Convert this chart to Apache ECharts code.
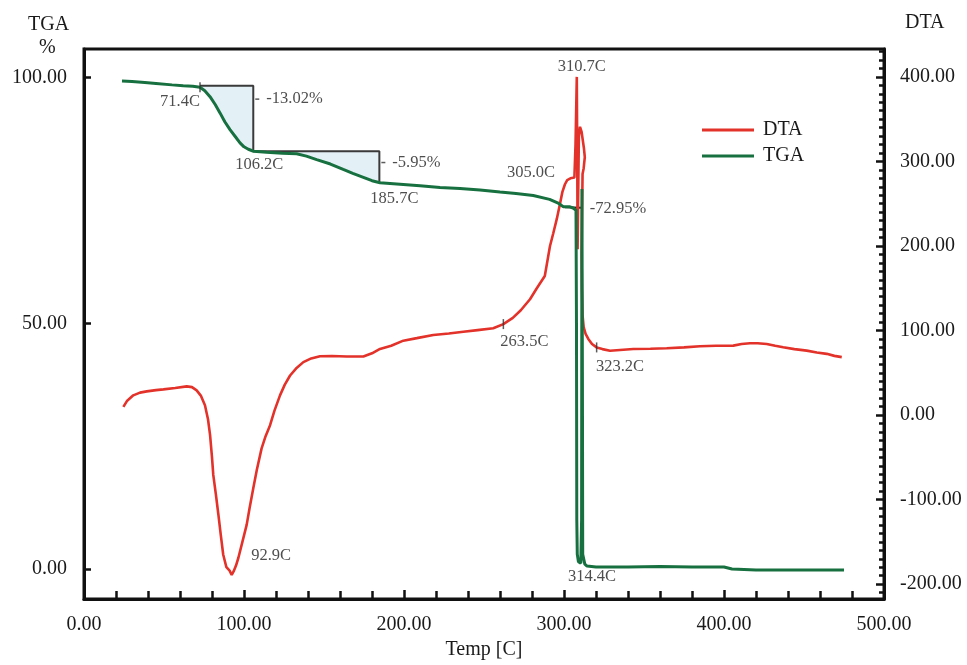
<!DOCTYPE html>
<html>
<head>
<meta charset="utf-8">
<script src="https://cdn.jsdelivr.net/npm/echarts@6/dist/echarts.min.js"></script>
<style>
html,body{margin:0;padding:0;background:#fff;}
#chart{width:967px;height:665px;}
</style>
</head>
<body>
<div id="chart"></div>
<script>
// ---------------- data ----------------
const xTicks = [0, 100, 200, 300, 400, 500];
const tgaTicks = [0, 50, 100];
const dtaTicks = [-200, -100, 0, 100, 200, 300, 400];

const tgaTemp = [23.75, 30, 38, 45, 55, 62, 68, 72.5, 75.5, 78.75, 82, 85, 88, 91.25, 94.5, 97.5, 100, 102.7, 106,
  114, 124, 132.9, 139, 145.4, 154, 162, 168, 174.6, 180, 185, 197.5, 210, 222.5, 235, 247.5, 260, 270, 280.8,
  291, 296, 299.6, 303.75, 306, 307.5, 307.8, 308, 308.3, 309, 310.5, 311, 311.2, 311.5, 311.7, 313, 314.4,
  320, 340, 360, 380, 400, 405, 420, 440, 460, 475];
const tgaValue = [99.3, 99.2, 99.0, 98.8, 98.5, 98.3, 98.2, 98.0, 97.3, 96.1, 94.5, 92.8, 91.0, 89.4, 88.0, 86.7, 85.9, 85.4, 85.0,
  84.8, 84.6, 84.5, 84.0, 83.3, 82.4, 81.3, 80.5, 79.7, 79.0, 78.6, 78.3, 78.0, 77.6, 77.4, 77.1, 76.7, 76.4, 76.0,
  75.2, 74.5, 73.7, 73.7, 73.4, 73.0, 50, 10, 3, 1.5, 1.2, 10, 77.3, 40, 3, 1.0, 0.6,
  0.4, 0.4, 0.5, 0.4, 0.4, 0.0, -0.2, -0.2, -0.2, -0.2];

const dtaTemp = [24.6, 27, 30.8, 35, 39.2, 45, 49.6, 57, 64.2, 67.5, 70.4, 73, 75.6, 77.5, 78.8, 80, 80.8, 82.5, 84,
  85.5, 87, 89, 91, 92.3, 93.5, 95, 96.5, 99, 101.7, 103.5, 105.8, 108, 111, 113.5, 116.3, 119, 122.5, 125.5,
  128.8, 132.5, 137.1, 142, 147.5, 155, 164.2, 174.6, 180, 185, 192, 199.6, 208, 218.3, 228, 237.1, 246, 255.8,
  262.1, 268, 273, 278.75, 283, 288, 291.25, 293.3, 295.5, 297.5, 299, 300.6, 302, 304, 306.5, 307.2, 307.6,
  308.0, 308.3, 308.5, 308.8, 309.3, 310, 311, 312.5, 313, 312.3, 311.6, 311.3, 311.0, 311.2, 311.6, 312.3,
  313.5, 315.2, 317.5, 320.4, 324, 328.75, 335, 343.3, 354, 364.2, 375, 385, 395, 405.8, 411, 416.25, 421,
  426.7, 432, 437, 444, 451.7, 458, 464.2, 469, 473.6];
const dtaValue = [9.6, 17, 23.3, 26.5, 28, 29.5, 30.4, 32, 33.9, 33, 29.2, 23, 11.5, -5, -23.8, -50, -70.8, -95, -117.9,
  -142, -165, -180, -184, -189, -185, -178, -168.8, -150, -129.6, -110, -86.5, -65, -39.4, -25, -12, 5, 23.3, 36,
  46.8, 55, 62.6, 67, 69.6, 69.8, 69.2, 69.2, 73, 78.2, 82, 88, 91, 94.7, 96.5, 98.6, 100.5, 102.6,
  107.6, 115, 124, 137, 150, 164.5, 200, 215, 232, 250, 264, 273, 278, 280, 281, 320, 360,
  400, 300, 196, 250, 330, 341, 335, 315, 305, 292, 285, 240, 190, 150, 118, 104,
  96, 90, 84, 80, 78, 76, 77, 78.2, 78.5, 79, 80, 81.4, 82, 82.1, 84, 84.9, 85,
  84.1, 82, 80.2, 78, 76.2, 74, 72.4, 70, 68.5];

// step-analysis boxes drawn on the TGA curve
const stepTemp = [72.5, 105.8, 105.8, 184.6, 184.6];
const stepValue = [98.3, 98.3, 85.0, 85.0, 78.7];
const lastStepTemp = [300.6, 311.1];
const lastStepValue = [73.6, 73.5];

// shaded areas between curve and box
const fillStart = [72.5, 105.8];
const fillEnd = [105.8, 184.6];
const fillTop = [98.3, 85.0];
const fillBottom = [85.0, 78.7];

// annotations
const tgaNoteText = ['71.4C', '106.2C', '185.7C', '-13.02%', '-5.95%', '-72.95%', '314.4C'];
const tgaNoteTemp = [72.5, 105.8, 184.6, 105.8, 184.6, 311.1, 314.4];
const tgaNoteValue = [98.0, 84.9, 78.7, 95.6, 82.7, 73.1, 0.6];
const dtaNoteText = ['92.9C', '263.5C', '305.0C', '310.7C', '323.2C'];
const dtaNoteTemp = [92.3, 262.1, 301.6, 308.0, 320.4];
const dtaNoteValue = [-189, 107.6, 276, 400, 80];

// ---------------- styles ----------------
const FONT = 'Liberation Serif';
const TXT = '#1a1a1a';
const RED = '#e2322a';
const GREEN = '#17703f';
const noteStyle = {
  '71.4C':   {offset: [-20, 14.5], align: 'center', mark: 'v'},
  '106.2C':  {offset: [6, 13], align: 'center'},
  '185.7C':  {offset: [15, 16], align: 'center'},
  '-13.02%': {offset: [9, 0], align: 'left', mark: 'h'},
  '-5.95%':  {offset: [9, 0], align: 'left', mark: 'h'},
  '-72.95%': {offset: [8, -1], align: 'left'},
  '314.4C':  {offset: [5, 11], align: 'center'},
  '92.9C':   {offset: [39.5, -19.5], align: 'center'},
  '263.5C':  {offset: [21, 17.5], align: 'center', mark: 'v'},
  '305.0C':  {offset: [-35.5, -9.5], align: 'center'},
  '310.7C':  {offset: [5, -10.5], align: 'center'},
  '323.2C':  {offset: [23.4, 19], align: 'center', mark: 'v'}
};

function zip(a, b) { return a.map((v, i) => [v, b[i]]); }
function noteData(texts, temps, vals) {
  return texts.map((t, i) => {
    const st = noteStyle[t];
    const item = {name: t, value: [temps[i], vals[i]],
      label: {offset: st.offset, align: st.align}};
    if (st.mark === 'v') { item.symbol = 'rect'; item.symbolSize = [1.5, 10]; }
    else if (st.mark === 'h') { item.symbol = 'rect'; item.symbolSize = [4, 1.5]; item.symbolOffset = [4, 0]; }
    else { item.symbolSize = 0; }
    return item;
  });
}
const tgaPts = zip(tgaTemp, tgaValue);

const chart = echarts.init(document.getElementById('chart'), null, {renderer: 'canvas'});
const fmt = v => Number(v).toFixed(2);
const dtaMinor = [];
for (let v = -210; v <= 430; v += 10) if (v % 100 !== 0) dtaMinor.push(v);

chart.setOption({
  animation: false,
  backgroundColor: '#fff',
  grid: {left: 84, right: 83, top: 49, bottom: 63, show: true, borderColor: '#111', borderWidth: 3, backgroundColor: '#fff'},
  legend: {
    data: ['DTA', 'TGA'], orient: 'vertical', left: 697, top: 114,
    icon: 'rect', itemWidth: 52, itemHeight: 3, itemGap: 4, selectedMode: false,
    textStyle: {fontFamily: FONT, fontSize: 20, color: TXT, lineHeight: 22, padding: [0, 0, 0, 4]}
  },
  graphic: [
    {type: 'text', left: 28, top: 15, style: {text: 'TGA', font: '20px "Liberation Serif"', fill: TXT}},
    {type: 'text', left: 39, top: 38, style: {text: '%', font: '20px "Liberation Serif"', fill: TXT}},
    {type: 'text', left: 905, top: 13, style: {text: 'DTA', font: '20px "Liberation Serif"', fill: TXT}}
  ],
  xAxis: {
    type: 'value', min: xTicks[0], max: xTicks[xTicks.length - 1], interval: 100,
    name: 'Temp [C]', nameLocation: 'middle', nameGap: 41,
    nameTextStyle: {fontFamily: FONT, fontSize: 20, color: TXT},
    axisLine: {show: true, onZero: false, lineStyle: {color: '#111', width: 3}},
    axisTick: {show: true, inside: true, length: 9, lineStyle: {color: '#111', width: 2.5}},
    minorTick: {show: true, splitNumber: 5, length: 8, lineStyle: {color: '#111', width: 2.5}},
    splitLine: {show: false}, minorSplitLine: {show: false},
    axisLabel: {fontFamily: FONT, fontSize: 20, color: TXT, margin: 16, formatter: fmt,
      customValues: xTicks}
  },
  yAxis: [
    {
      type: 'value', position: 'left', min: -6.1, max: 105.8,
      axisLine: {show: true, onZero: false, lineStyle: {color: '#111', width: 3}},
      axisTick: {show: true, inside: true, length: 7, lineStyle: {color: '#111', width: 2.5}, customValues: tgaTicks},
      axisLabel: {fontFamily: FONT, fontSize: 20, color: TXT, margin: 17, formatter: fmt, customValues: tgaTicks},
      splitLine: {show: false}
    },
    {
      type: 'value', position: 'right', min: -217.6, max: 433,
      axisLine: {show: true, onZero: false, lineStyle: {color: '#111', width: 3}},
      axisTick: {show: true, inside: true, length: 8, lineStyle: {color: '#111', width: 2.5}, customValues: dtaTicks},
      axisLabel: {fontFamily: FONT, fontSize: 20, color: TXT, margin: 16, formatter: fmt, customValues: dtaTicks},
      splitLine: {show: false}
    },
    {
      type: 'value', position: 'right', min: -217.6, max: 433,
      axisLine: {show: false, onZero: false},
      axisTick: {show: true, inside: true, length: 5, lineStyle: {color: '#111', width: 2.5}, customValues: dtaMinor},
      axisLabel: {show: false},
      splitLine: {show: false}
    }
  ],
  series: [
    {
      type: 'custom', name: 'fill', coordinateSystem: 'cartesian2d', xAxisIndex: 0, yAxisIndex: 0, z: 1, silent: true,
      data: zip(fillStart, fillTop),
      renderItem: function (params, api) {
        const i = params.dataIndex;
        const s = fillStart[i], e = fillEnd[i];
        const pts = [api.coord([s, fillTop[i]]), api.coord([e, fillTop[i]]), api.coord([e, fillBottom[i]])];
        const curve = tgaPts.filter(p => p[0] > s && p[0] < e).reverse();
        curve.forEach(p => pts.push(api.coord(p)));
        pts.push(api.coord([s, fillTop[i]]));
        return {type: 'polygon', shape: {points: pts}, style: {fill: '#e3f1f6', stroke: null}};
      }
    },
    {
      type: 'line', name: 'steps', xAxisIndex: 0, yAxisIndex: 0, z: 3, silent: true,
      data: zip(stepTemp, stepValue), showSymbol: false, symbol: 'none',
      lineStyle: {color: '#3a3a3a', width: 2}
    },
    {
      type: 'line', name: 'step3', xAxisIndex: 0, yAxisIndex: 0, z: 3, silent: true,
      data: zip(lastStepTemp, lastStepValue), showSymbol: false, symbol: 'none',
      lineStyle: {color: '#222', width: 2}
    },
    {
      type: 'line', name: 'DTA', xAxisIndex: 0, yAxisIndex: 1, z: 4,
      data: zip(dtaTemp, dtaValue), showSymbol: false, symbol: 'none', color: RED,
      lineStyle: {color: RED, width: 2.6}
    },
    {
      type: 'line', name: 'TGA', xAxisIndex: 0, yAxisIndex: 0, z: 5,
      data: tgaPts, showSymbol: false, symbol: 'none', color: GREEN,
      lineStyle: {color: GREEN, width: 3}
    },
    {
      type: 'scatter', name: 'tgaNotes', xAxisIndex: 0, yAxisIndex: 0, z: 6, silent: true,
      itemStyle: {color: '#333'},
      data: noteData(tgaNoteText, tgaNoteTemp, tgaNoteValue),
      label: {show: true, position: 'inside', formatter: p => p.name, fontFamily: FONT, fontSize: 16.5, color: '#222', verticalAlign: 'middle'}
    },
    {
      type: 'scatter', name: 'dtaNotes', xAxisIndex: 0, yAxisIndex: 1, z: 6, silent: true,
      itemStyle: {color: '#333'},
      data: noteData(dtaNoteText, dtaNoteTemp, dtaNoteValue),
      label: {show: true, position: 'inside', formatter: p => p.name, fontFamily: FONT, fontSize: 16.5, color: '#222', verticalAlign: 'middle'}
    }
  ]
});
</script>
</body>
</html>
